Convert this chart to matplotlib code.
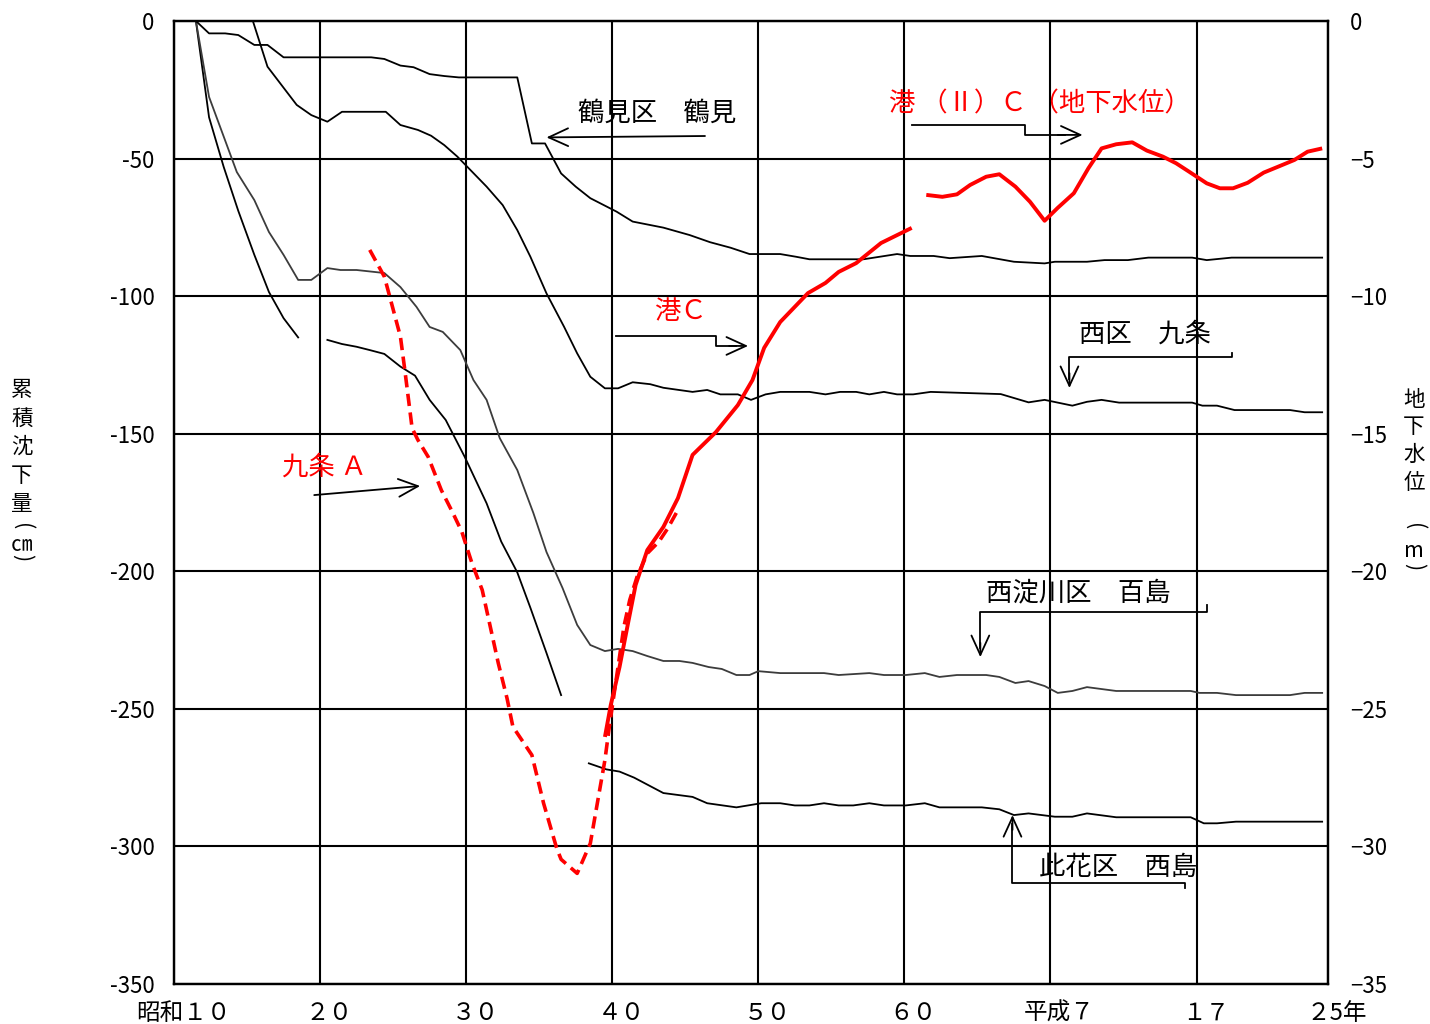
import matplotlib
matplotlib.use("Agg")
import matplotlib.pyplot as plt
from matplotlib.transforms import ScaledTranslation

plt.rcParams['font.family'] = ['Noto Sans CJK JP', 'DejaVu Sans']

# ---------------- axes / ticks ----------------
x_ticks = [1935, 1945, 1955, 1965, 1975, 1985, 1995, 2005, 2014]
x_labels = ['昭和１０', '２０', '３０', '４０', '５０', '６０', '平成７', '１７', '２5年']
y_ticks_left = [0, -50, -100, -150, -200, -250, -300, -350]
y_labels_left = ['0', '-50', '-100', '-150', '-200', '-250', '-300', '-350']
y_ticks_right = [0, -5, -10, -15, -20, -25, -30, -35]
y_labels_right = ['0', '−5', '−10', '−15', '−20', '−25', '−30', '−35']

# ---------------- subsidence series (cm) ----------------
# unlabeled steep black line
a_year = [1936.5, 1937.4, 1938.4, 1939.4, 1940.5, 1941.5, 1942.5, 1943.5]
a_val = [0, -35, -53, -69, -85, -98.5, -108, -115]

# 西淀川区 百島 (gray)
b_year = [1936.5, 1937.4, 1939.3, 1940.5, 1941.5, 1942.5, 1943.5, 1944.4, 1945.5, 1946.4,
          1947.5, 1949.4, 1950.5, 1951.6, 1952.5, 1953.4, 1954.6, 1955.5, 1956.4, 1957.3,
          1958.5, 1959.6, 1960.5, 1961.6, 1962.6, 1963.5, 1964.5, 1965.4, 1966.4, 1967.4,
          1968.5, 1969.6, 1970.5, 1971.6, 1972.5, 1973.5, 1974.4, 1975.0, 1976.5, 1979.5,
          1980.5, 1982.6, 1983.6, 1985.1, 1986.4, 1987.4, 1988.6, 1990.6, 1991.5, 1992.6,
          1993.5, 1994.6, 1995.5, 1996.5, 1997.5, 1999.5, 2004.6, 2005.2, 2006.4, 2007.7,
          2011.4, 2012.4, 2013.6]
b_val = [0, -27.6, -54.9, -65.1, -76.7, -85.0, -94.1, -94.1, -89.8, -90.5,
         -90.5, -91.6, -96.7, -103.9, -111.2, -113.0, -119.6, -130.5, -137.7, -151.6,
         -163.2, -178.8, -193.0, -206.1, -219.5, -226.8, -229.0, -228.2, -229.0, -230.8,
         -232.6, -232.6, -233.3, -234.8, -235.5, -237.7, -237.7, -236.3, -237.0, -237.0,
         -237.7, -237.0, -237.7, -237.7, -237.0, -238.4, -237.7, -237.7, -238.4, -240.6,
         -239.9, -241.7, -244.2, -243.5, -242.1, -243.5, -243.5, -244.2, -244.2, -245.0,
         -245.0, -244.2, -244.2]

# 鶴見区 鶴見
c_year = [1936.5, 1937.4, 1938.5, 1939.4, 1940.5, 1941.4, 1942.5, 1948.5, 1949.4, 1950.5,
          1951.4, 1952.5, 1953.5, 1954.5, 1958.5, 1959.5, 1960.4, 1961.5, 1962.5, 1963.5,
          1965.3, 1966.4, 1968.5, 1970.3, 1971.7, 1973.1, 1974.4, 1976.5, 1977.6, 1978.5,
          1982.2, 1984.5, 1985.4, 1987.0, 1988.1, 1990.3, 1992.5, 1994.6, 1995.3, 1997.5,
          1998.7, 2000.3, 2001.7, 2004.7, 2005.7, 2007.4, 2013.6]
c_val = [0, -4.5, -4.5, -5.1, -8.7, -8.7, -13.2, -13.2, -13.8, -16.2,
         -16.8, -19.3, -20.0, -20.5, -20.5, -44.5, -44.5, -55.4, -60.2, -64.4,
         -69.3, -72.9, -75.1, -77.8, -80.4, -82.4, -84.7, -84.7, -85.7, -86.6,
         -86.6, -84.7, -85.4, -85.4, -86.2, -85.4, -87.5, -88.1, -87.5, -87.5,
         -86.9, -86.9, -86.0, -86.0, -86.9, -86.0, -86.0]

# 西区 九条
d_year = [1940.4, 1941.4, 1943.4, 1944.4, 1945.5, 1946.5, 1949.5, 1950.5, 1951.7, 1952.6,
          1953.5, 1954.4, 1955.3, 1956.4, 1957.5, 1958.5, 1959.4, 1960.5, 1961.7, 1962.6,
          1963.5, 1964.5, 1965.4, 1966.4, 1967.6, 1968.5, 1970.5, 1971.5, 1972.4, 1973.6,
          1974.5, 1975.5, 1976.5, 1978.5, 1979.6, 1980.6, 1981.7, 1982.6, 1983.6, 1984.5,
          1985.6, 1986.8, 1991.6, 1993.5, 1994.6, 1996.5, 1997.5, 1998.5, 1999.7, 2004.7,
          2005.4, 2006.4, 2007.6, 2011.4, 2012.4, 2013.6]
d_val = [0, -16.6, -30.5, -34.2, -36.6, -33.0, -33.0, -37.8, -39.6, -41.7,
         -45.1, -49.3, -54.2, -60.2, -66.9, -76.0, -85.7, -99.0, -111.1, -120.8,
         -129.3, -133.5, -133.5, -131.3, -132.0, -133.3, -134.8, -134.1, -135.7, -135.7,
         -137.7, -135.7, -134.8, -134.8, -135.7, -134.8, -134.8, -135.7, -134.8, -135.7,
         -135.7, -134.8, -135.6, -138.6, -137.7, -139.8, -138.4, -137.7, -138.7, -138.7,
         -139.8, -139.8, -141.4, -141.4, -142.2, -142.2]

# unlabeled black line (1945-1961)
e_year = [1945.5, 1946.5, 1947.5, 1948.4, 1949.4, 1950.5, 1951.5, 1952.5, 1953.6, 1954.9,
          1956.4, 1957.4, 1958.5, 1959.4, 1960.5, 1961.5]
e_val = [-115.9, -117.4, -118.4, -119.6, -121.0, -125.6, -128.9, -137.7, -145.0, -158.4,
         -175.3, -189.2, -200.4, -213.3, -229.7, -245.0]

# 此花区 西島
f_year = [1963.4, 1964.6, 1965.5, 1966.5, 1968.5, 1970.5, 1971.5, 1973.5, 1975.2, 1976.5,
          1977.5, 1978.5, 1979.5, 1980.5, 1981.5, 1982.6, 1983.6, 1985.1, 1986.4, 1987.4,
          1990.3, 1991.5, 1992.5, 1993.5, 1995.3, 1996.5, 1997.5, 1999.5, 2004.6, 2005.5,
          2006.4, 2007.7, 2013.6]
f_val = [-269.8, -272.0, -272.8, -275.0, -280.6, -282.0, -284.3, -285.8, -284.3, -284.3,
         -285.1, -285.1, -284.3, -285.1, -285.1, -284.3, -285.1, -285.1, -284.3, -285.8,
         -285.8, -286.5, -288.6, -288.0, -289.2, -289.2, -288.0, -289.4, -289.4, -291.6,
         -291.6, -291.0, -291.0]

# ---------------- groundwater level series (m) ----------------
# 港C
kc_year = [1964.5, 1964.9, 1965.5, 1966.1, 1966.6, 1967.4, 1968.5, 1969.5, 1970.5, 1972.1,
           1973.6, 1974.6, 1975.4, 1976.5, 1978.4, 1979.6, 1980.5, 1981.7, 1983.4, 1985.5]
kc_val = [-26.02, -24.86, -23.48, -21.84, -20.50, -19.23, -18.39, -17.34, -15.77, -14.94,
          -13.96, -13.05, -11.88, -10.94, -9.89, -9.52, -9.12, -8.80, -8.07, -7.52]

# 港（Ⅱ）C
k2_year = [1986.5, 1987.6, 1988.6, 1989.5, 1990.6, 1991.5, 1992.6, 1993.6, 1994.6, 1995.5,
           1996.6, 1997.6, 1998.5, 1999.5, 2000.6, 2001.6, 2002.7, 2003.6, 2004.5, 2005.7,
           2006.6, 2007.5, 2008.5, 2009.6, 2010.7, 2011.7, 2012.6, 2013.6]
k2_val = [-6.32, -6.39, -6.30, -5.96, -5.66, -5.57, -6.02, -6.57, -7.26, -6.79,
          -6.26, -5.35, -4.63, -4.48, -4.41, -4.71, -4.93, -5.17, -5.48, -5.90,
          -6.08, -6.08, -5.88, -5.51, -5.27, -5.05, -4.75, -4.63]

# 九条A (dashed)
ka_year = [1948.4, 1949.4, 1949.8, 1950.5, 1950.8, 1951.3, 1951.7, 1952.4, 1953.3, 1954.1,
           1954.7, 1955.4, 1956.1, 1956.6, 1957.2, 1957.8, 1958.2, 1959.5, 1960.3, 1961.2,
           1961.5, 1962.6, 1963.5, 1964.0, 1964.5, 1964.8, 1965.3, 1965.8, 1966.2, 1966.7,
           1967.4, 1968.2, 1968.8, 1969.5]
ka_val = [-8.32, -9.29, -10.08, -11.47, -12.68, -14.80, -15.23, -15.84, -17.05, -17.89,
          -18.56, -19.71, -20.68, -21.89, -23.34, -24.62, -25.65, -26.68, -28.43, -30.07,
          -30.47, -30.98, -29.89, -28.37, -26.86, -25.65, -23.83, -22.01, -21.04, -20.20,
          -19.35, -18.92, -18.44, -17.77]

# ---------------- figure ----------------
fig = plt.figure(figsize=(14.3, 10.24), dpi=100)
ax = fig.add_axes([174 / 1430, 1 - 984 / 1024, (1328 - 174) / 1430, (984 - 21) / 1024])
ax.set_xlim(1935, 2014)
ax.set_ylim(-350, 0)

ax.set_xticks(x_ticks)
ax.set_xticklabels(x_labels, fontsize=17)
ax.set_yticks(y_ticks_left)
ax.set_yticklabels(y_labels_left, fontsize=16)
ax.tick_params(axis='both', length=0)
ax.tick_params(axis='y', pad=14)
ax.tick_params(axis='x', pad=13)
ax.grid(True, color='black', linewidth=1.5)
ax.set_axisbelow(True)
for s in ax.spines.values():
    s.set_linewidth(1.6)
    s.set_color('black')

offset = ScaledTranslation(9 / 100, 0, fig.dpi_scale_trans)
for lab in ax.get_xticklabels():
    lab.set_transform(lab.get_transform() + offset)

lw = 1.3
ax.plot(a_year, a_val, color='black', lw=lw)
ax.plot(b_year, b_val, color='#3c3c3c', lw=lw)
ax.plot(c_year, c_val, color='black', lw=lw)
ax.plot(d_year, d_val, color='black', lw=lw)
ax.plot(e_year, e_val, color='black', lw=lw)
ax.plot(f_year, f_val, color='black', lw=lw)

ax2 = ax.twinx()
ax2.set_ylim(-35, 0)
ax2.set_yticks(y_ticks_right)
ax2.set_yticklabels(y_labels_right, fontsize=16)
ax2.tick_params(axis='y', length=0, pad=16)
for s in ax2.spines.values():
    s.set_linewidth(1.6)

ax2.plot(ka_year, ka_val, color='#ff0000', lw=2.6, dashes=(3.4, 1.8))
ax2.plot(kc_year, kc_val, color='#ff0000', lw=2.8, solid_capstyle='butt')
ax2.plot(k2_year, k2_val, color='#ff0000', lw=2.8, solid_capstyle='butt')

# ---------------- annotations ----------------
fs = 19
arrow_style = '->,head_length=0.7,head_width=0.32'


def arrow(tail, head):
    ax.annotate('', xy=head, xytext=tail,
                arrowprops=dict(arrowstyle=arrow_style, color='black', lw=1.3,
                                shrinkA=0, shrinkB=0, mutation_scale=20))


ax.text(1968.1, -33.4, '鶴見区　鶴見', fontsize=fs, ha='center', va='center', color='black')
arrow((1971.35, -41.8), (1960.5, -42.3))

ax.text(1994.3, -30.2, '港 （Ⅱ）Ｃ （地下水位）', fontsize=fs, ha='center', va='center', color='#ff0000')
ax.plot([1985.5, 1993.25, 1993.25, 1996.0], [-37.8, -37.8, -41.4, -41.4], color='black', lw=1.3)
arrow((1995.5, -41.4), (1997.2, -41.4))

ax.text(1969.7, -105.4, '港Ｃ', fontsize=fs, ha='center', va='center', color='#ff0000')
ax.plot([1965.25, 1972.1, 1972.1, 1973.5], [-114.5, -114.5, -118.1, -118.1], color='black', lw=1.3)
arrow((1973.0, -118.1), (1974.3, -118.1))

ax.text(1945.3, -162.1, '九条 Ａ', fontsize=fs, ha='center', va='center', color='#ff0000')
arrow((1944.6, -172.3), (1951.85, -169.0))

ax.text(2001.5, -113.8, '西区　九条', fontsize=fs, ha='center', va='center', color='black')
ax.plot([2007.4, 2007.4, 1996.3, 1996.3], [-120.7, -122.1, -122.1, -130.0], color='black', lw=1.3)
arrow((1996.3, -128.0), (1996.3, -133.4))

ax.text(1996.9, -207.9, '西淀川区　百島', fontsize=fs, ha='center', va='center', color='black')
ax.plot([2005.7, 2005.7, 1990.2, 1990.2], [-212.3, -214.8, -214.8, -228.0], color='black', lw=1.3)
arrow((1990.2, -226.0), (1990.2, -231.2))

ax.text(1999.6, -307.5, '此花区　西島', fontsize=fs, ha='center', va='center', color='black')
ax.plot([2004.2, 2004.2, 1992.4, 1992.4], [-315.1, -313.3, -313.3, -292.0], color='black', lw=1.3)
arrow((1992.4, -294.0), (1992.4, -288.6))

# ---------------- axis titles (vertical stacked) ----------------
tfs = 15.5
left_chars = ['累', '積', '沈', '下', '量']
left_y = [390, 419, 447, 476, 504]
for ch, yy in zip(left_chars, left_y):
    fig.text(22 / 1430, 1 - yy / 1024, ch, fontsize=tfs, ha='center', va='center')
fig.text(22 / 1430, 1 - 527 / 1024, '(', fontsize=tfs, ha='center', va='center', rotation=-90)
fig.text(22 / 1430, 1 - 545 / 1024, '㎝', fontsize=tfs, ha='center', va='center')
fig.text(22 / 1430, 1 - 558 / 1024, ')', fontsize=tfs, ha='center', va='center', rotation=-90)

right_chars = ['地', '下', '水', '位']
right_y = [400, 427, 455, 483]
for ch, yy in zip(right_chars, right_y):
    fig.text(1414 / 1430, 1 - yy / 1024, ch, fontsize=tfs, ha='center', va='center')
fig.text(1414 / 1430, 1 - 527 / 1024, '(', fontsize=tfs, ha='center', va='center', rotation=-90)
fig.text(1414 / 1430, 1 - 551 / 1024, 'm', fontsize=tfs, ha='center', va='center')
fig.text(1414 / 1430, 1 - 567 / 1024, ')', fontsize=tfs, ha='center', va='center', rotation=-90)

fig.savefig('out.png', dpi=100)
